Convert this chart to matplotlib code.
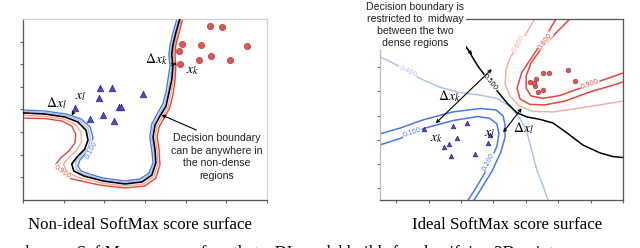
import numpy as np
import matplotlib.pyplot as plt

plt.rcParams['mathtext.fontset'] = 'stix'

# ---------------- left panel: non-ideal surface ----------------
# class k (circles) and class l (triangles)
k_left_x = [4.60, 4.89, 3.92, 4.37, 3.84, 5.52, 4.62, 4.33, 5.09, 3.86]
k_left_y = [7.70, 7.63, 6.88, 6.85, 6.60, 6.82, 6.35, 6.19, 6.19, 6.01]
l_left_x = [1.89, 2.19, 1.88, 2.96, 1.29, 2.37, 2.40, 1.65, 1.98, 2.24]
l_left_y = [4.94, 4.96, 4.52, 4.67, 4.05, 4.12, 4.12, 3.58, 3.76, 3.48]

# score contours
bnd_left_x = [0.00, 0.54, 1.03, 1.35, 1.55, 1.60, 1.52, 1.33, 1.20, 1.25, 1.50, 1.97, 2.51, 2.93,
              3.17, 3.27, 3.25, 3.20, 3.25, 3.37, 3.52, 3.59, 3.66, 3.69, 3.66, 3.69, 3.76, 3.86]
bnd_left_y = [3.85, 3.80, 3.67, 3.45, 3.09, 2.65, 2.25, 1.90, 1.59, 1.28, 1.06, 0.84, 0.71, 0.80,
              1.10, 1.64, 2.21, 2.78, 3.31, 3.71, 4.15, 4.73, 5.30, 5.92, 6.41, 6.85, 7.38, 8.00]

c100_left_x = [0.00, 0.54, 1.06, 1.43, 1.65, 1.72, 1.70, 1.55, 1.40, 1.35, 1.43, 1.72, 1.97, 2.51, 2.88,
               3.10, 3.20, 3.17, 3.12, 3.17, 3.30, 3.44, 3.52, 3.57, 3.62, 3.59, 3.62, 3.69, 3.79]
c100_left_y = [3.98, 3.93, 3.80, 3.58, 3.23, 2.78, 2.39, 2.08, 1.77, 1.50, 1.28, 1.10, 0.97, 0.84, 0.93,
               1.19, 1.64, 2.21, 2.78, 3.36, 3.80, 4.24, 4.77, 5.35, 5.92, 6.41, 6.85, 7.38, 8.00]

c300_left_x = [0.00, 0.54, 1.05, 1.39, 1.60, 1.66, 1.61, 1.44, 1.30, 1.30, 1.43, 1.72, 1.97, 2.51, 2.90,
               3.14, 3.24, 3.21, 3.16, 3.21, 3.34, 3.48, 3.56, 3.62, 3.66, 3.63, 3.66, 3.73, 3.83]
c300_left_y = [3.92, 3.87, 3.74, 3.52, 3.16, 2.72, 2.32, 1.99, 1.68, 1.39, 1.18, 1.02, 0.91, 0.78, 0.87,
               1.15, 1.64, 2.21, 2.78, 3.34, 3.76, 4.20, 4.75, 5.33, 5.92, 6.41, 6.85, 7.38, 8.00]

c700_left_x = [0.00, 0.54, 1.00, 1.28, 1.43, 1.44, 1.33, 1.13, 1.00, 1.07, 1.35, 1.93, 2.51, 2.97,
               3.22, 3.32, 3.30, 3.25, 3.30, 3.42, 3.57, 3.64, 3.70, 3.73, 3.70, 3.73, 3.80, 3.90]
c700_left_y = [3.74, 3.70, 3.58, 3.36, 3.00, 2.58, 2.21, 1.88, 1.59, 1.26, 1.00, 0.75, 0.62, 0.71,
               1.04, 1.60, 2.21, 2.78, 3.27, 3.67, 4.11, 4.69, 5.28, 5.90, 6.41, 6.85, 7.38, 8.00]

c900_left_x = [0.00, 0.54, 0.96, 1.20, 1.30, 1.28, 1.13, 0.93, 0.81, 0.89, 1.20, 1.89, 2.51, 3.00,
               3.27, 3.37, 3.35, 3.30, 3.35, 3.47, 3.61, 3.69, 3.74, 3.76, 3.74, 3.76, 3.84, 3.93]
c900_left_y = [3.62, 3.60, 3.49, 3.27, 2.92, 2.52, 2.17, 1.86, 1.59, 1.24, 0.93, 0.66, 0.53, 0.62,
               0.97, 1.55, 2.21, 2.78, 3.23, 3.62, 4.07, 4.64, 5.26, 5.88, 6.41, 6.85, 7.38, 8.00]

# ---------------- right panel: ideal surface ----------------
k_right_x = [4.52, 4.71, 5.31, 5.53, 4.13, 4.31, 4.28, 4.26, 4.39, 4.52]
k_right_y = [4.78, 4.78, 4.89, 4.43, 4.40, 4.50, 4.22, 4.34, 3.98, 4.06]
l_right_x = [0.87, 1.74, 2.18, 1.89, 1.63, 1.48, 1.69, 2.44, 2.82, 2.89]
l_right_y = [2.43, 2.57, 2.70, 2.08, 1.81, 1.71, 1.32, 1.39, 1.85, 2.19]

bnd_right_x = [1.35, 1.81, 2.03, 2.22, 2.37, 2.52, 2.68, 2.89, 3.14, 3.42, 3.73, 4.04, 4.44,
               4.84, 5.27, 5.76, 6.29, 6.69, 7.00]
bnd_right_y = [7.00, 6.42, 6.05, 5.72, 5.38, 5.05, 4.76, 4.39, 3.98, 3.52, 3.11, 2.94, 2.84,
               2.69, 2.28, 1.78, 1.45, 1.30, 1.26]

c400_right_x = [-0.50, 0.02, 0.73, 1.35, 1.97, 2.59, 3.10, 3.51, 3.82, 4.03, 4.18, 4.34, 4.54, 4.69]
c400_right_y = [5.44, 5.09, 4.54, 4.17, 3.95, 3.85, 3.71, 3.37, 2.89, 2.33, 1.57, 0.74, 0.05, -0.50]

c200_right_x = [-0.50, 0.12, 0.83, 1.75, 2.59, 3.08, 3.30, 3.36, 3.36, 3.23, 2.96, 2.62, 2.40]
c200_right_y = [2.24, 2.48, 2.82, 3.15, 3.29, 3.23, 2.98, 2.61, 2.11, 1.49, 0.70, -0.04, -0.50]

c100_right_x = [-0.50, 0.12, 0.89, 1.75, 2.52, 2.89, 3.11, 3.17, 3.11, 2.93, 2.68, 2.40, 2.22]
c100_right_y = [1.78, 2.05, 2.48, 2.79, 2.96, 2.88, 2.65, 2.24, 1.74, 1.16, 0.49, -0.13, -0.50]

c600_right_x = [4.28, 4.13, 3.97, 3.67, 3.51, 3.39, 3.36, 3.51, 3.79, 4.22, 4.84, 5.67, 6.47, 7.00]
c600_right_y = [7.00, 6.67, 6.30, 5.72, 5.38, 4.89, 4.31, 3.81, 3.40, 3.17, 3.15, 3.31, 3.48, 3.60]

c800_right_x = [4.93, 4.68, 4.38, 4.13, 3.88, 3.73, 3.82, 4.13, 4.59, 5.21, 5.98, 6.60, 7.00]
c800_right_y = [7.00, 6.42, 5.80, 5.30, 4.80, 4.14, 3.69, 3.46, 3.44, 3.60, 3.98, 4.22, 4.39]

c900_right_x = [5.36, 4.93, 4.47, 4.16, 4.01, 4.01, 4.16, 4.53, 5.05, 5.61, 6.38, 7.00]
c900_right_y = [7.00, 6.42, 5.76, 5.18, 4.64, 4.14, 3.81, 3.71, 3.83, 4.10, 4.47, 4.76]

RED = '#e4463a'
LRED = '#f4a99c'
BLUE = '#4a78e4'
LBLUE = '#a7c0f2'

lab_box = dict(boxstyle='square,pad=0.05', fc='white', ec='none')

fig = plt.figure(figsize=(6.4, 2.48), dpi=100)
ax1 = fig.add_axes([0.0359, 0.1935, 0.381, 0.730])
ax2 = fig.add_axes([0.59375, 0.1935, 0.3797, 0.730])

# ---- left ----
ax1.plot(c100_left_x, c100_left_y, color=BLUE, lw=1.0, zorder=2)
ax1.plot(c300_left_x, c300_left_y, color=LBLUE, lw=1.0, zorder=2)
ax1.plot(c700_left_x, c700_left_y, color=LRED, lw=1.0, zorder=2)
ax1.plot(c900_left_x, c900_left_y, color=RED, lw=1.0, zorder=2)
ax1.plot(bnd_left_x, bnd_left_y, color='black', lw=1.2, zorder=4)
ax1.text(1.68, 2.21, '0.100', color=BLUE, fontsize=4.8, rotation=62, ha='center', va='center',
         bbox=lab_box, zorder=3)
ax1.text(0.97, 1.24, '0.900', color=RED, fontsize=4.8, rotation=-35, ha='center', va='center',
         bbox=lab_box, zorder=3)
ax1.scatter(k_left_x, k_left_y, s=20, marker='o', color='#ee5050', edgecolor='#8a4a4a',
            linewidth=0.5, zorder=5)
ax1.scatter(l_left_x, l_left_y, s=22, marker='^', color='#4a4ad6', edgecolor='#2a2a70',
            linewidth=0.5, zorder=5)

ax1.text(0.83, 4.29, r'$\Delta x_l$', fontsize=10, ha='center', va='center', zorder=6)
ax1.text(1.42, 4.55, r'$x_l$', fontsize=10, ha='center', va='center', zorder=6)
ax1.annotate('', xy=(1.16, 3.63), xytext=(1.28, 3.98),
             arrowprops=dict(arrowstyle='->', lw=0.8, color='black', mutation_scale=5), zorder=6)
ax1.text(3.27, 6.23, r'$\Delta x_k$', fontsize=10, ha='center', va='center', zorder=6)
ax1.text(4.16, 5.70, r'$x_k$', fontsize=10, ha='center', va='center', zorder=6)
ax1.annotate('', xy=(3.62, 5.99), xytext=(3.80, 6.02),
             arrowprops=dict(arrowstyle='<->', lw=0.7, color='black', mutation_scale=4), zorder=6)
ax1.annotate('Decision boundary\ncan be anywhere in\nthe non-dense\nregions',
             xy=(3.41, 3.76), xytext=(4.76, 1.90), ha='center', va='center',
             fontsize=7.6, family='Liberation Sans', color='#222222', linespacing=1.35,
             arrowprops=dict(arrowstyle='-|>', lw=0.8, color='black', mutation_scale=5,
                             shrinkA=0, shrinkB=0, relpos=(0.35, 1.0)),
             zorder=6)

ax1.set_xlim(0, 6)
ax1.set_ylim(0, 8)
ax1.set_xticks(np.arange(0, 7))
ax1.set_yticks(np.arange(1, 8))
for side in ['left', 'bottom']:
    ax1.spines[side].set_color('#555555')
for side in ['top', 'right']:
    ax1.spines[side].set_color('#d0d0d0')

# ---- right ----
ax2.plot(c400_right_x, c400_right_y, color=LBLUE, lw=1.0, zorder=2)
ax2.plot(c200_right_x, c200_right_y, color=BLUE, lw=1.1, zorder=2)
ax2.plot(c100_right_x, c100_right_y, color=BLUE, lw=1.1, zorder=2)
ax2.plot(c600_right_x, c600_right_y, color=LRED, lw=1.0, zorder=2)
ax2.plot(c800_right_x, c800_right_y, color=RED, lw=1.1, zorder=2)
ax2.plot(c900_right_x, c900_right_y, color=RED, lw=1.1, zorder=2)
ax2.plot(bnd_right_x, bnd_right_y, color='black', lw=1.1, zorder=2)

ax2.text(0.36, 4.85, '0.400', color=LBLUE, fontsize=4.8, rotation=-25, ha='center', va='center',
         bbox=lab_box, zorder=3)
ax2.text(0.49, 2.30, '0.100', color=BLUE, fontsize=4.8, rotation=18, ha='center', va='center',
         bbox=lab_box, zorder=3)
ax2.text(2.84, 1.09, '0.200', color=BLUE, fontsize=4.8, rotation=62, ha='center', va='center',
         bbox=lab_box, zorder=3)
ax2.text(3.76, 5.96, '0.600', color=LRED, fontsize=4.8, rotation=62, ha='center', va='center',
         bbox=lab_box, zorder=3)
ax2.text(4.59, 6.09, '0.800', color=RED, fontsize=4.8, rotation=52, ha='center', va='center',
         bbox=lab_box, zorder=3)
ax2.text(5.98, 4.31, '0.900', color=RED, fontsize=4.8, rotation=20, ha='center', va='center',
         bbox=lab_box, zorder=3)
ax2.text(2.91, 4.37, '0.500', color='black', fontsize=4.8, rotation=-50, ha='center', va='center',
         bbox=lab_box, zorder=3)

ax2.scatter(k_right_x, k_right_y, s=11, marker='o', color='#ee5050', edgecolor='#8a4a4a',
            linewidth=0.5, zorder=5)
ax2.scatter(l_right_x, l_right_y, s=11, marker='^', color='#4a4ad6', edgecolor='#2a2a70',
            linewidth=0.5, zorder=5)

ax2.annotate('', xy=(2.95, 4.92), xytext=(1.22, 2.68),
             arrowprops=dict(arrowstyle='<->', lw=0.8, color='black', mutation_scale=5,
                             shrinkA=0, shrinkB=0), zorder=6)
ax2.annotate('', xy=(3.87, 3.30), xytext=(3.30, 2.30),
             arrowprops=dict(arrowstyle='<->', lw=0.8, color='black', mutation_scale=5,
                             shrinkA=0, shrinkB=0), zorder=6)
ax2.text(1.63, 3.81, r'$\Delta x_k$', fontsize=10, ha='center', va='center', zorder=6)
ax2.text(1.23, 2.03, r'$x_k$', fontsize=10, ha='center', va='center', zorder=6)
ax2.text(2.89, 2.23, r'$x_l$', fontsize=10, ha='center', va='center', zorder=6)
ax2.text(3.94, 2.48, r'$\Delta x_l$', fontsize=10, ha='center', va='center', zorder=6)

ax2.annotate('Decision boundary is\nrestricted to  midway\nbetween the two\ndense regions',
             xy=(2.34, 5.51), xytext=(0.58, 6.75), ha='center', va='center',
             fontsize=7.6, family='Liberation Sans', color='#222222', linespacing=1.28,
             bbox=dict(boxstyle='square,pad=0.15', fc='white', ec='none'),
             arrowprops=dict(arrowstyle='-|>', lw=0.8, color='black', mutation_scale=5,
                             shrinkA=0, shrinkB=0, relpos=(0.93, 0.3)),
             annotation_clip=False, zorder=7)

ax2.set_xlim(-0.5, 7)
ax2.set_ylim(-0.5, 7)
ax2.set_xticks(np.arange(0, 8))
ax2.set_yticks(np.arange(0, 7))
ax2.spines['left'].set_color('#bbbbbb')
for side in ['bottom', 'top', 'right']:
    ax2.spines[side].set_color('#555555')

for ax in (ax1, ax2):
    ax.tick_params(direction='out', length=2.5, width=0.8, color='#666666',
                   labelleft=False, labelbottom=False)
    for s in ax.spines.values():
        s.set_linewidth(0.9)

# captions
fig.text(0.219, 0.093, 'Non-ideal SoftMax score surface', ha='center', va='center',
         family='Liberation Serif', fontsize=12.2)
fig.text(0.792, 0.093, 'Ideal SoftMax score surface', ha='center', va='center',
         family='Liberation Serif', fontsize=12.2)
# next caption line, cut by the lower edge as in the source
fig.text(-0.056, -0.036, 'Ideal vs. bumpy SoftMax score surface that a DL model builds for classifying 2D points',
         ha='left', va='baseline', family='Liberation Serif', fontsize=12.2)

fig.savefig('out.png', dpi=100)
